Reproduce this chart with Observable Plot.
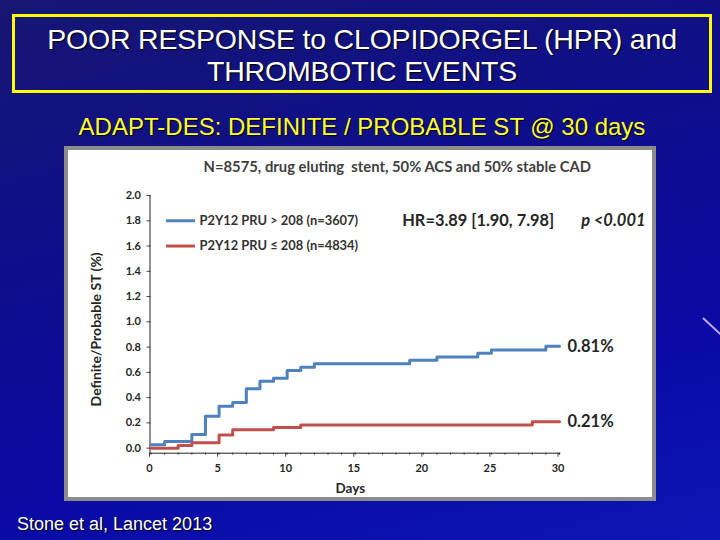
<!DOCTYPE html>
<html>
<head>
<meta charset="utf-8">
<script src="https://cdn.jsdelivr.net/npm/d3@7"></script>
<script src="https://cdn.jsdelivr.net/npm/@observablehq/plot@0.6"></script>
<style>
  html, body { margin: 0; padding: 0; }
  #slide {
    position: relative; width: 720px; height: 540px; overflow: hidden;
    background: linear-gradient(165deg, #161672 0%, #0e0e8e 40%, #0a0aa4 70%, #0c16b4 100%);
    font-family: "Liberation Sans", Arial, sans-serif;
  }
  #titlebox {
    position: absolute; left: 12px; top: 14px; width: 694px;
    border: 3px solid #ffff00; color: #fff; text-align: center;
    font-size: 28.5px; line-height: 32px; padding-top: 6px; height: 67px;
    letter-spacing: -0.2px; text-shadow: 1px 1px 1px #000;
  }
  #subtitle {
    position: absolute; left: 0; width: 724px; top: 113px; text-align: center;
    color: #ffff33; font-size: 24px; line-height: 28px; text-shadow: 1px 1px 1px #000;
  }
  #panel {
    position: absolute; left: 64px; top: 146px; width: 584px; height: 347px;
    background: #fff; border: 4px solid #8c8c8c;
  }
  #panel svg { position: absolute; left: 0; top: 0; }
  #caption {
    position: absolute; left: 17px; top: 513px; color: #fff; font-size: 18px;
    line-height: 22px; text-shadow: 1px 1px 1px #000;
  }
  #deco {
    position: absolute; left: 703px; top: 317px; width: 24px; height: 2px;
    background: #c8a8ff; transform: rotate(43deg); transform-origin: left center;
  }
</style>
</head>
<body>
<div id="slide">
  <div id="titlebox">POOR RESPONSE to CLOPIDORGEL (HPR) and<br>THROMBOTIC EVENTS</div>
  <div id="subtitle">ADAPT-DES: DEFINITE / PROBABLE ST @ 30 days</div>
  <div id="panel"></div>
  <div id="caption">Stone et al, Lancet 2013</div>
  <div id="deco"></div>
</div>
<script>
// ---- data ----
const blueDays  = [0, 1, 3, 4, 5, 6, 7, 8, 9, 10, 11, 12, 19, 21, 24, 25, 29, 30];
const blueST    = [0.027, 0.053, 0.108, 0.252, 0.331, 0.362, 0.47, 0.53, 0.554, 0.614, 0.64, 0.669, 0.696, 0.722, 0.751, 0.777, 0.806, 0.806];
const redDays   = [0, 2, 3, 5, 6, 9, 11, 28, 30];
const redST     = [0.0, 0.021, 0.042, 0.105, 0.145, 0.163, 0.184, 0.208, 0.208];
const seriesNames  = ["P2Y12 PRU > 208 (n=3607)", "P2Y12 PRU \u2264 208 (n=4834)"];
const seriesColors = ["#4f81bd", "#c0504d"];
const endLabels    = ["0.81%", "0.21%"];
const yTicks = [0, 0.2, 0.4, 0.6, 0.8, 1.0, 1.2, 1.4, 1.6, 1.8, 2.0];
const xTicks = [0, 5, 10, 15, 20, 25, 30];
const xMinorTicks = d3.range(0, 31);
const headerText = "N=8575, drug eluting  stent, 50% ACS and 50% stable CAD";
const hrText = "HR=3.89 [1.90, 7.98]";
const pText = "p <0.001";
const yLabel = "Definite/Probable ST (%)";
const xLabel = "Days";

const blue = blueDays.map((d, i) => ({day: d, st: blueST[i]}));
const red = redDays.map((d, i) => ({day: d, st: redST[i]}));
const legend = seriesNames.map((name, i) => ({name, color: seriesColors[i], ly: [1.8, 1.6][i]}));
const ends = [
  {label: endLabels[0], v: blueST[blueST.length - 1]},
  {label: endLabels[1], v: redST[redST.length - 1]}
];

const font = "Lato, 'Open Sans', sans-serif";
const ink = "#262626";

const chart = Plot.plot({
  width: 584, height: 347,
  marginLeft: 82.5, marginRight: 93, marginTop: 45, marginBottom: 44.3,
  x: {domain: [0, 30]},
  y: {domain: [-0.04, 2]},
  style: {fontFamily: font, color: ink, background: "transparent", overflow: "visible"},
  marks: [
    // axes
    Plot.axisY({ticks: yTicks, tickSize: 4, tickPadding: 6, tickFormat: d3.format(".1f"),
      fontSize: 11, fontWeight: "bold", stroke: "#444", fill: ink, label: null}),
    Plot.axisX({ticks: xMinorTicks, tickSize: 2, text: null, label: null, stroke: "#444"}),
    Plot.axisX({ticks: xTicks, tickSize: 4, tickPadding: 7, dx: -1.5,
      fontSize: 11, fontWeight: "bold", fill: ink, stroke: "#444", label: null}),
    Plot.ruleX([0], {y1: -0.04, y2: 2, dx: -1, stroke: "#222", strokeWidth: 1}),
    Plot.ruleY([-0.04], {x1: -0.1, x2: 30.1, stroke: "#222", strokeWidth: 1}),
    // axis titles
    Plot.text([yLabel], {frameAnchor: "left", rotate: -90, textAnchor: "middle", dx: -54, dy: 5,
      fontSize: 14, fontWeight: "bold", fill: ink}),
    Plot.text([xLabel], {frameAnchor: "bottom", dy: 40, dx: -5,
      fontSize: 13.5, fontWeight: "bold", fill: ink}),
    // data
    Plot.line(blue, {x: "day", y: "st", curve: "step-after", stroke: seriesColors[0], strokeWidth: 3}),
    Plot.line(red, {x: "day", y: "st", curve: "step-after", stroke: seriesColors[1], strokeWidth: 3}),
    // end labels
    Plot.text(ends, {x: 30, y: "v", text: "label", dx: 8, textAnchor: "start",
      fontSize: 16.5, fontWeight: "bold", fill: ink}),
    // legend
    Plot.ruleY(legend, {y: "ly", x1: 1.14, x2: 3.27, stroke: "color", strokeWidth: 3}),
    Plot.text(legend, {y: "ly", x: 3.56, text: "name", textAnchor: "start",
      fontSize: 12.9, fontWeight: "bold", fill: "#333"}),
    // header + HR
    Plot.text([headerText], {frameAnchor: "top", dy: -34, dx: 42, fontSize: 14.8, fontWeight: "bold", fill: "#404040"}),
    Plot.text([hrText], {x: 18.45, y: 1.8, textAnchor: "start", fontSize: 16.4, fontWeight: "bold", fill: ink}),
    Plot.text([pText], {x: 31.6, y: 1.8, textAnchor: "start", fontSize: 16.5, fontWeight: "bold", fontStyle: "italic", fill: ink})
  ]
});
document.getElementById("panel").appendChild(chart);
</script>
</body>
</html>
